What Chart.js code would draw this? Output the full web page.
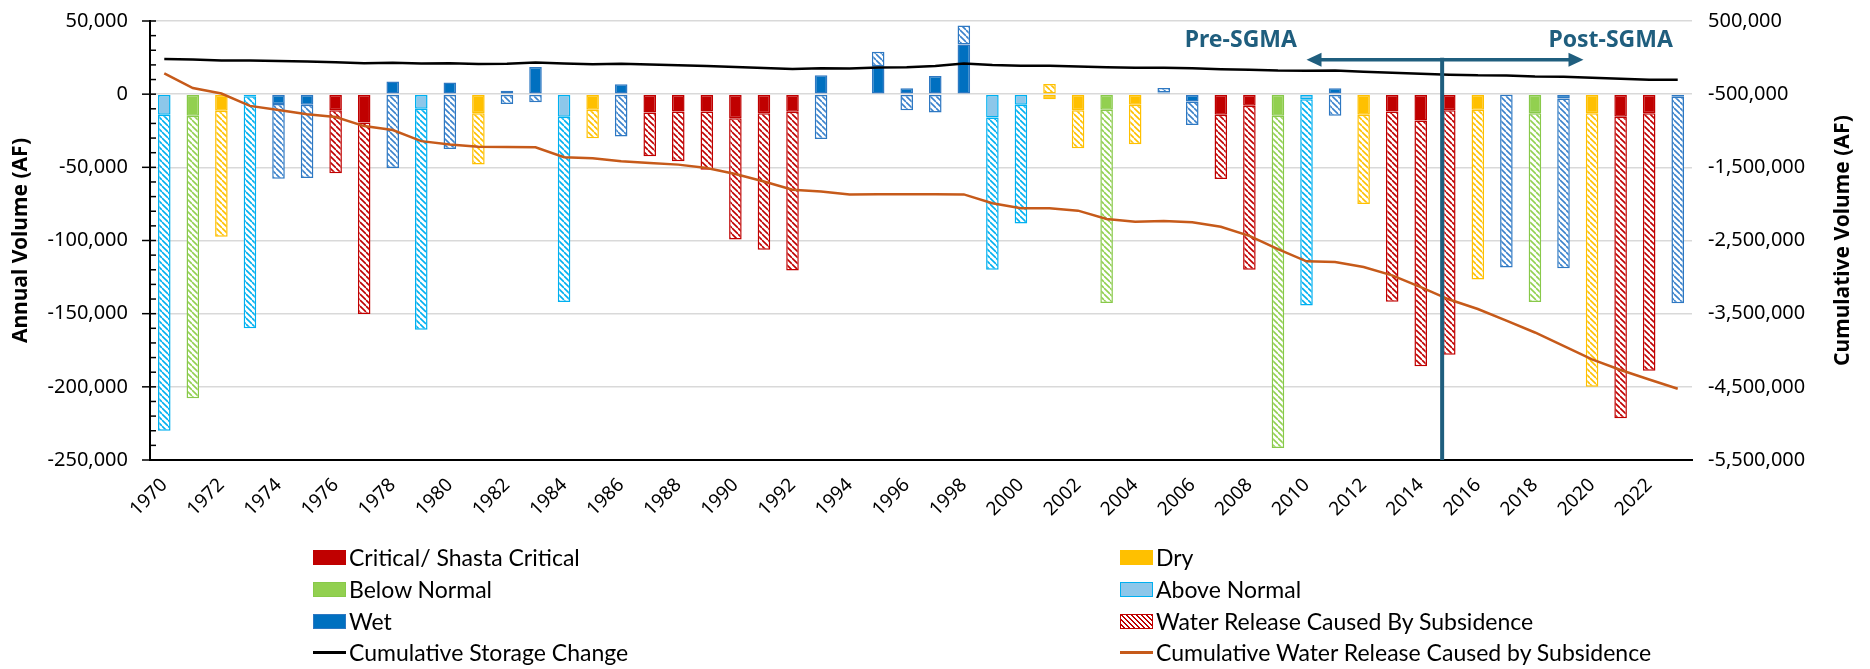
<!DOCTYPE html>
<html>
<head>
<meta charset="utf-8">
<title>Annual and Cumulative Volume</title>
<script src="https://cdn.jsdelivr.net/npm/chart.js@4.4.1/dist/chart.umd.min.js"></script>
<style>
  body { margin: 0; background: #fff; }
  #wrap { position: relative; width: 1870px; height: 669px; }
  #volume-chart { position: absolute; left: 0; top: 0; }
  #legend { position: absolute; left: 0; top: 0; font-family: Lato, sans-serif; font-size: 23px; color: #000; }
  .item { position: absolute; display: flex; align-items: center; white-space: nowrap; height: 26px; }
  .sw { width: 33px; height: 15px; margin-right: 3px; box-sizing: border-box; }
  .ln { width: 33px; height: 3px; margin-right: 3px; }
</style>
</head>
<body>
<div id="wrap">
  <canvas id="volume-chart" width="1870" height="669"></canvas>
  <div id="legend"></div>
</div>
<script>
// categories
const years = [1970, 1971, 1972, 1973, 1974, 1975, 1976, 1977, 1978, 1979,
  1980, 1981, 1982, 1983, 1984, 1985, 1986, 1987, 1988, 1989,
  1990, 1991, 1992, 1993, 1994, 1995, 1996, 1997, 1998, 1999,
  2000, 2001, 2002, 2003, 2004, 2005, 2006, 2007, 2008, 2009,
  2010, 2011, 2012, 2013, 2014, 2015, 2016, 2017, 2018, 2019,
  2020, 2021, 2022, 2023];

// water year type: C critical, D dry, BN below normal, AN above normal, W wet
const waterYearType = ['AN', 'BN', 'D', 'AN', 'W', 'W', 'C', 'C', 'W', 'AN',
  'W', 'D', 'W', 'W', 'AN', 'D', 'W', 'C', 'C', 'C',
  'C', 'C', 'C', 'W', null, 'W', 'W', 'W', 'W', 'AN',
  'AN', 'D', 'D', 'BN', 'D', 'W', 'W', 'C', 'C', 'BN',
  'AN', 'W', 'D', 'C', 'C', 'C', 'D', 'W', 'BN', 'W',
  'D', 'C', 'C', 'W'];

// annual storage change (AF), solid part of each bar
const storageChange = [-14000, -14800, -11400, -1500, -6800, -7300, -11000, -19300, 8600, -10000,
  8000, -13000, 2300, 18600, -15500, -10700, 6800, -12500, -11800, -11800,
  -16400, -13000, -12000, 13000, null, 19000, 4000, 12500, 34000, -16000,
  -7300, -3500, -11000, -10700, -7300, 1200, -5000, -14000, -8000, -14800,
  -3400, 4000, -14000, -11800, -18000, -11000, -10700, -400, -13000, -3000,
  -13000, -15500, -13000, -1800];

// annual water release caused by subsidence (AF), hatched part
const subsidenceRelease = [-216000, -193000, -86000, -158500, -51000, -50000, -43000, -131000, -50500, -151000,
  -37500, -35000, -6800, -5500, -126500, -19500, -28900, -30000, -34000, -39800,
  -83000, -93400, -108500, -30700, null, 10000, -11000, -12500, 13000, -104000,
  -81000, 7000, -26000, -132000, -27000, 3000, -16000, -44000, -112000, -227000,
  -141000, -14800, -61000, -130000, -168000, -167000, -116000, -118000, -129000, -116000,
  -187000, -206000, -176000, -141000];

// cumulative lines (AF), right axis
const cumulativeStorage = [-18000, -27000, -41000, -41000, -48000, -55000, -64000, -78000, -72000, -82000,
  -76000, -87000, -85000, -68000, -80000, -90000, -84000, -96000, -106000, -116000,
  -130000, -142000, -155000, -145000, -150000, -135000, -132000, -115000, -80000, -100000,
  -110000, -112000, -122000, -133000, -140000, -140000, -146000, -158000, -165000, -178000,
  -180000, -178000, -195000, -206000, -222000, -233000, -243000, -244000, -258000, -263000,
  -276000, -290000, -302000, -303000];

const cumulativeRelease = [-216000, -417000, -491000, -660000, -716000, -775000, -812000, -936000, -991000, -1142000,
  -1188000, -1220000, -1222000, -1225000, -1362000, -1376000, -1417000, -1440000, -1463000, -1509000,
  -1592000, -1693000, -1807000, -1830000, -1870000, -1867000, -1867000, -1867000, -1870000, -1991000,
  -2060000, -2060000, -2092000, -2206000, -2243000, -2234000, -2252000, -2312000, -2436000, -2619000,
  -2784000, -2793000, -2862000, -2977000, -3137000, -3307000, -3436000, -3596000, -3757000, -3940000,
  -4124000, -4270000, -4399000, -4527000];

const leftTicks = { min: -250000, max: 50000, major: 50000, minor: 10000 };
const rightTicks = { min: -5500000, max: 500000, step: 1000000 };

// SGMA marker, in years and right-axis units
const sgmaBoundary = 2014.75;
const sgmaArrow = { from: 2010.0, to: 2019.7, level: -30000 };
const sgmaLabels = [
  { text: 'Pre-SGMA', year: 2007.7, level: 240000 },
  { text: 'Post-SGMA', year: 2020.65, level: 240000 }
];

const typeColors = {
  C: { fill: '#C00000', line: '#C00000', hatch: '#C00000' },
  D: { fill: '#FFC000', line: '#FFC000', hatch: '#FFC000' },
  BN: { fill: '#92D050', line: '#88C94A', hatch: '#92D050' },
  AN: { fill: '#8DC7EA', line: '#00B0F0', hatch: '#00B0F0' },
  W: { fill: '#0070C0', line: '#2E78C2', hatch: '#3A82CC' }
};

function makeHatch(color){
  const s = 6;
  const c = document.createElement('canvas');
  c.width = s; c.height = s;
  const g = c.getContext('2d');
  g.fillStyle = '#fff';
  g.fillRect(0, 0, s, s);
  g.strokeStyle = color;
  g.lineWidth = 1.6;
  g.beginPath();
  [-s, 0, s].forEach(k => { g.moveTo(0, k); g.lineTo(s, k + s); });
  g.stroke();
  return g.createPattern(c, 'repeat');
}

const hatchCache = {};
function hatchFor(t){
  if (!t) return 'rgba(0,0,0,0)';
  if (!hatchCache[t]) hatchCache[t] = makeHatch(typeColors[t].hatch);
  return hatchCache[t];
}

Chart.defaults.font.family = '"Noto Sans", sans-serif';
Chart.defaults.font.size = 20;
Chart.defaults.color = '#000';

const fmt = v => Number(v).toLocaleString('en-US');

// vertical scales: fixed width and no label overhang so the plot box is set by layout padding
function fixWidth(w){
  return s => { s.width = w; s.paddingTop = 0; s.paddingBottom = 0; };
}

// extra drawing: tick marks, right title, SGMA marker
const extras = {
  id: 'extras',
  afterDatasetsDraw(chart){
    const ctx = chart.ctx;
    const x = chart.scales.x, y2 = chart.scales.y2, area = chart.chartArea;
    const px = yr => x.getPixelForValue(yr - years[0]);
    const col = '#1F5E7E';
    ctx.save();
    ctx.strokeStyle = col;
    ctx.fillStyle = col;
    // vertical boundary
    const vx = px(sgmaBoundary), ay = y2.getPixelForValue(sgmaArrow.level);
    ctx.lineWidth = 4;
    ctx.beginPath(); ctx.moveTo(vx, ay - 2); ctx.lineTo(vx, area.bottom); ctx.stroke();
    // double arrow
    const x1 = px(sgmaArrow.from), x2 = px(sgmaArrow.to), head = 15;
    ctx.lineWidth = 3.5;
    ctx.beginPath(); ctx.moveTo(x1 + head - 2, ay); ctx.lineTo(x2 - head + 2, ay); ctx.stroke();
    ctx.beginPath(); ctx.moveTo(x1, ay); ctx.lineTo(x1 + head, ay - 7); ctx.lineTo(x1 + head, ay + 7); ctx.closePath(); ctx.fill();
    ctx.beginPath(); ctx.moveTo(x2, ay); ctx.lineTo(x2 - head, ay - 7); ctx.lineTo(x2 - head, ay + 7); ctx.closePath(); ctx.fill();
    ctx.font = 'bold 23px "Noto Sans"';
    ctx.textAlign = 'center';
    ctx.textBaseline = 'middle';
    sgmaLabels.forEach(l => ctx.fillText(l.text, px(l.year), y2.getPixelForValue(l.level)));
    ctx.restore();
  },
  afterDraw(chart){
    const ctx = chart.ctx;
    const y = chart.scales.y, area = chart.chartArea;
    ctx.save();
    ctx.strokeStyle = '#000';
    ctx.lineWidth = 1.5;
    y.ticks.forEach((t, i) => {
      const py = y.getPixelForTick(i);
      const major = t.value % leftTicks.major === 0;
      ctx.beginPath();
      ctx.moveTo(area.left - (major ? 8 : 0), py);
      ctx.lineTo(area.left + 6, py);
      ctx.stroke();
    });
    // right axis title reads bottom to top
    ctx.translate(1843, (area.top + area.bottom) / 2);
    ctx.rotate(-Math.PI / 2);
    ctx.font = 'bold 21px "Noto Sans"';
    ctx.fillStyle = '#000';
    ctx.textAlign = 'center';
    ctx.textBaseline = 'middle';
    ctx.fillText('Cumulative Volume (AF)', 0, 0);
    ctx.restore();
  }
};

var ctx = document.getElementById('volume-chart').getContext('2d');

new Chart(ctx, {
  type: 'bar',
  data: {
    labels: years.map(String),
    datasets: [{
      label: 'Water Year Type',
      data: storageChange,
      backgroundColor: waterYearType.map(t => t ? typeColors[t].fill : 'rgba(0,0,0,0)'),
      borderColor: waterYearType.map(t => t ? typeColors[t].line : 'rgba(0,0,0,0)'),
      borderWidth: 1.5,
      borderSkipped: false,
      stack: 'annual',
      yAxisID: 'y',
      order: 1,
      categoryPercentage: 1,
      barPercentage: 0.44
    }, {
      label: 'Water Release Caused By Subsidence',
      data: subsidenceRelease,
      backgroundColor: waterYearType.map(hatchFor),
      borderColor: waterYearType.map(t => t ? typeColors[t].line : 'rgba(0,0,0,0)'),
      borderWidth: 1.5,
      borderSkipped: false,
      stack: 'annual',
      yAxisID: 'y',
      order: 1,
      categoryPercentage: 1,
      barPercentage: 0.44
    }, {
      type: 'line',
      label: 'Cumulative Storage Change',
      data: cumulativeStorage,
      borderColor: '#000',
      borderWidth: 2.5,
      pointRadius: 0,
      tension: 0,
      yAxisID: 'y2',
      order: 0
    }, {
      type: 'line',
      label: 'Cumulative Water Release Caused by Subsidence',
      data: cumulativeRelease,
      borderColor: '#C65A1A',
      borderWidth: 2.5,
      pointRadius: 0,
      tension: 0,
      yAxisID: 'y2',
      order: 0
    }]
  },
  options: {
    responsive: false,
    animation: false,
    layout: { padding: { top: 21, bottom: 149, left: 0, right: 0 } },
    plugins: { legend: { display: false }, tooltip: { enabled: false } },
    scales: {
      x: {
        stacked: true,
        offset: true,
        grid: { display: false },
        border: { color: '#000', width: 2 },
        ticks: {
          autoSkip: false,
          minRotation: 45,
          maxRotation: 45,
          padding: 6,
          font: { size: 19 },
          callback: (v, i) => i % 2 === 0 ? String(years[i]) : ''
        },
        afterFit: s => { s.height = 60; s.paddingLeft = 0; s.paddingRight = 0; }
      },
      y: {
        stacked: true,
        min: leftTicks.min,
        max: leftTicks.max,
        position: 'left',
        ticks: {
          stepSize: leftTicks.minor,
          autoSkip: false,
          padding: 22,
          font: { size: 20 },
          callback: v => v % leftTicks.major === 0 ? fmt(v) : ''
        },
        grid: {
          drawTicks: false,
          lineWidth: 1.5,
          color: c => (c.tick && c.tick.value % leftTicks.major === 0) ? '#D9D9D9' : 'rgba(0,0,0,0)'
        },
        border: { color: '#000', width: 2 },
        title: {
          display: true,
          text: 'Annual Volume (AF)',
          font: { size: 21, weight: 'bold' },
          padding: { top: 8, bottom: 0 }
        },
        afterFit: fixWidth(150)
      },
      y2: {
        position: 'right',
        min: rightTicks.min,
        max: rightTicks.max,
        ticks: {
          stepSize: rightTicks.step,
          autoSkip: false,
          padding: 16,
          font: { size: 20 },
          callback: v => fmt(v)
        },
        grid: { drawOnChartArea: false, drawTicks: false },
        border: { display: false },
        afterFit: fixWidth(178)
      }
    }
  },
  plugins: [extras]
});

// two-column legend like the original
const legendEntries = [
  { text: 'Critical/ Shasta Critical', kind: 'box', t: 'C', col: 0, row: 0 },
  { text: 'Below Normal', kind: 'box', t: 'BN', col: 0, row: 1 },
  { text: 'Wet', kind: 'box', t: 'W', col: 0, row: 2 },
  { text: 'Cumulative Storage Change', kind: 'line', color: '#000', col: 0, row: 3 },
  { text: 'Dry', kind: 'box', t: 'D', col: 1, row: 0 },
  { text: 'Above Normal', kind: 'box', t: 'AN', col: 1, row: 1 },
  { text: 'Water Release Caused By Subsidence', kind: 'hatch', t: 'C', col: 1, row: 2 },
  { text: 'Cumulative Water Release Caused by Subsidence', kind: 'line', color: '#C65A1A', col: 1, row: 3 }
];
const colX = [313, 1120];
const rowY = [557, 589, 621, 652];
const legend = document.getElementById('legend');
legendEntries.forEach(e => {
  const item = document.createElement('div');
  item.className = 'item';
  item.style.left = colX[e.col] + 'px';
  item.style.top = (rowY[e.row] - 13) + 'px';
  const mark = document.createElement('span');
  if (e.kind === 'line') {
    mark.className = 'ln';
    mark.style.background = e.color;
  } else {
    mark.className = 'sw';
    const c = typeColors[e.t];
    mark.style.border = '1.5px solid ' + c.line;
    if (e.kind === 'hatch') {
      mark.style.background = 'repeating-linear-gradient(45deg, #fff 0 2px, ' + c.hatch + ' 2px 3.5px)';
    } else {
      mark.style.background = c.fill;
    }
  }
  const label = document.createElement('span');
  label.textContent = e.text;
  item.appendChild(mark);
  item.appendChild(label);
  legend.appendChild(item);
});
</script>
</body>
</html>
